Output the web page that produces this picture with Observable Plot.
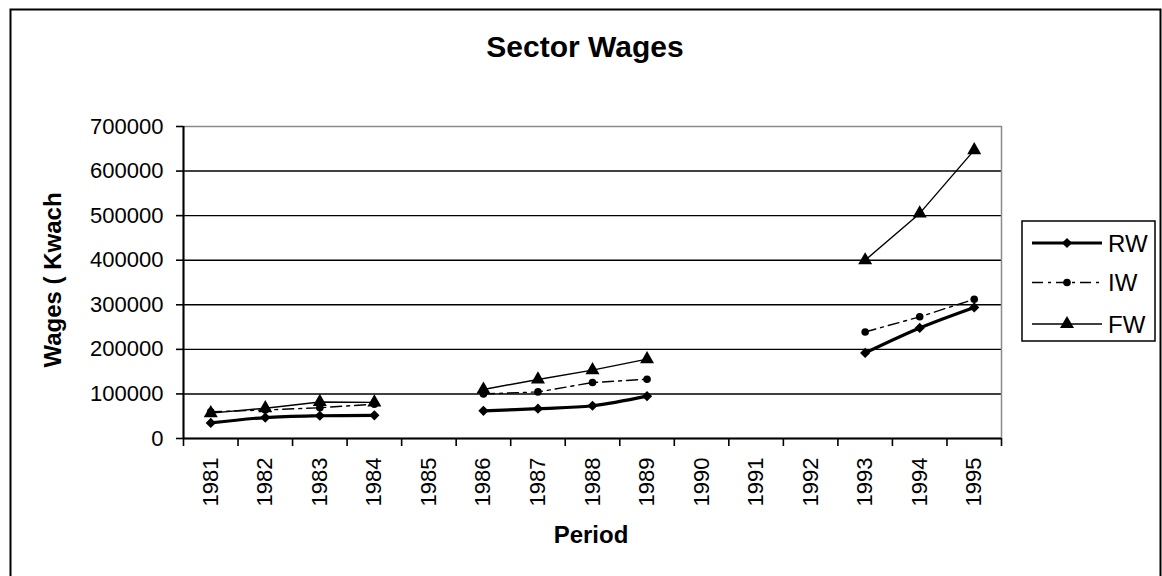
<!DOCTYPE html>
<html><head><meta charset="utf-8">
<script src="https://cdn.jsdelivr.net/npm/d3@7"></script>
<script src="https://cdn.jsdelivr.net/npm/@observablehq/plot@0.6"></script>
<style>
html,body{margin:0;padding:0;background:#fff;}
#chart{position:relative;width:1162px;height:576px;overflow:hidden;font-family:"Liberation Sans",Arial,sans-serif;}
#chart svg{position:absolute;left:0;top:0;}
</style></head><body><div id="chart"></div>
<script>
// ---- data ----
const years = ["1981","1982","1983","1984","1985","1986","1987","1988","1989","1990","1991","1992","1993","1994","1995"];
const rw = [35000, 47000, 51000, 52000, null, 62000, 67000, 73500, 95000, null, null, null, 192000, 248000, 294000];
const iw = [60000, 64000, 69000, 77000, null, 100000, 104500, 125500, 133000, null, null, null, 239000, 273000, 312500];
const fw = [57000, 68000, 82000, 81000, null, 110000, 132500, 153500, 178000, null, null, null, 400000, 505000, 647000];
const yTicks = [0, 100000, 200000, 300000, 400000, 500000, 600000, 700000];
const seriesNames = ["RW", "IW", "FW"];
const titleText = "Sector Wages";
const xTitle = "Period";
const yTitle = "Wages ( Kwach";

const font = '"Liberation Sans", Arial, sans-serif';
const rows = years.map((year, i) => ({year, pos: i + 0.5, RW: rw[i], IW: iw[i], FW: fw[i]}));

const styles = {
  RW: {strokeWidth: 3.2, dash: null, symbol: "diamond2", r: 4.6},
  IW: {strokeWidth: 1.4, dash: "11,5,3,5", symbol: "circle", r: 3.8},
  FW: {strokeWidth: 1.4, dash: null, symbol: "triangle", r: 5.2}
};

const plot = Plot.plot({
  width: 1162, height: 576,
  marginLeft: 183, marginRight: 161, marginTop: 126, marginBottom: 138,
  style: {fontFamily: font, fontSize: "22px", color: "#000", background: "transparent", overflow: "visible"},
  x: {type: "linear", domain: [0, years.length]},
  y: {domain: [0, 700000]},
  marks: [
    Plot.ruleY(yTicks.filter(v => v > 0 && v < 700000), {stroke: "#000", strokeWidth: 1.4}),
    Plot.frame({stroke: "#8a8a8a", strokeWidth: 1.5}),
    Plot.axisY({ticks: yTicks, tickSize: 7, tickPadding: 13, tickFormat: d => String(d), label: null, strokeWidth: 1.6}),
    Plot.axisX({ticks: d3.range(0, years.length + 1), tickSize: 8, tickFormat: () => "", label: null, strokeWidth: 1.6}),
    Plot.axisX({ticks: rows.map(d => d.pos), tickSize: 0, tickRotate: -90, tickPadding: 19, tickFormat: t => years[Math.floor(t)], label: null}),
    Plot.ruleX([0], {stroke: "#000", strokeWidth: 2}),
    Plot.ruleY([0], {stroke: "#000", strokeWidth: 2}),
    Plot.line(rows, {x: "pos", y: "IW", stroke: "#000", strokeWidth: styles.IW.strokeWidth, strokeDasharray: styles.IW.dash}),
    Plot.line(rows, {x: "pos", y: "FW", stroke: "#000", strokeWidth: styles.FW.strokeWidth}),
    Plot.line(rows, {x: "pos", y: "RW", stroke: "#000", strokeWidth: styles.RW.strokeWidth, curve: "catmull-rom"}),
    Plot.dot(rows, {x: "pos", y: "IW", symbol: "circle", r: styles.IW.r, fill: "#000", stroke: null}),
    Plot.dot(rows, {x: "pos", y: "FW", symbol: "triangle", r: styles.FW.r, fill: "#000", stroke: null}),
    Plot.dot(rows, {x: "pos", y: "RW", symbol: "diamond2", r: styles.RW.r, fill: "#000", stroke: null})
  ]
});
document.getElementById("chart").appendChild(plot);

// ---- overlay: border, titles, legend ----
const ov = d3.select("#chart").append("svg")
  .attr("width", 1162).attr("height", 576)
  .style("font-family", font).style("pointer-events", "none");

ov.append("rect").attr("x", 10.5).attr("y", 9.5).attr("width", 1150).attr("height", 620)
  .attr("fill", "none").attr("stroke", "#000").attr("stroke-width", 2);

ov.append("text").attr("x", 585).attr("y", 57).attr("text-anchor", "middle")
  .attr("font-size", 30).attr("font-weight", "bold").text(titleText);

ov.append("text").attr("x", 591).attr("y", 543).attr("text-anchor", "middle")
  .attr("font-size", 24).attr("font-weight", "bold").text(xTitle);

ov.append("text").attr("transform", "translate(61,280) rotate(-90)").attr("text-anchor", "middle")
  .attr("font-size", 24).attr("font-weight", "bold").text(yTitle);

const lg = ov.append("g");
lg.append("rect").attr("x", 1022).attr("y", 221).attr("width", 133).attr("height", 120)
  .attr("fill", "#fff").attr("stroke", "#000").attr("stroke-width", 1.5);
const legendY = [243, 282.5, 324];
const symMap = {diamond2: d3.symbolDiamond2, circle: d3.symbolCircle, triangle: d3.symbolTriangle};
seriesNames.forEach((name, i) => {
  const s = styles[name];
  const y = legendY[i];
  lg.append("line").attr("x1", 1032).attr("x2", 1102).attr("y1", y).attr("y2", y)
    .attr("stroke", "#000").attr("stroke-width", s.strokeWidth)
    .attr("stroke-dasharray", s.dash);
  lg.append("path").attr("transform", `translate(1067,${y})`)
    .attr("d", d3.symbol(symMap[s.symbol], s.r * s.r * Math.PI)()).attr("fill", "#000");
  lg.append("text").attr("x", 1108).attr("y", y + 8.5).attr("font-size", 24).text(name);
});
</script>
</body></html>
